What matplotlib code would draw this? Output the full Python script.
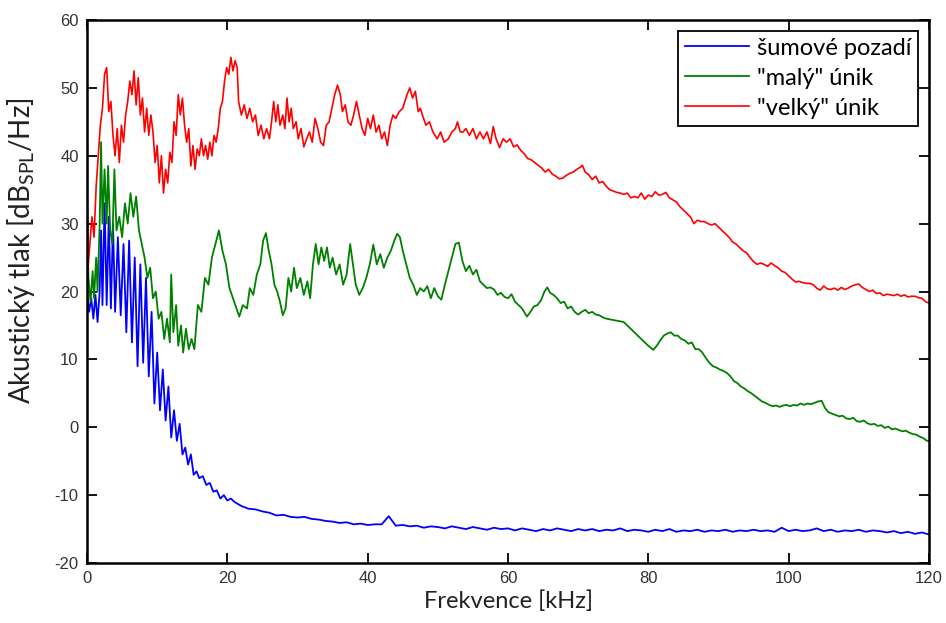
import matplotlib
matplotlib.use("Agg")
import matplotlib.pyplot as plt

# ---------------- data ----------------
blue_khz = [0, 0.3, 0.6, 0.9, 1.2, 1.5, 1.8, 2.0, 2.2, 2.5, 2.8, 3.1, 3.4, 3.7, 4.0, 4.4, 4.8,
            5.2, 5.6, 6.0, 6.4, 6.8, 7.2, 7.6, 8.0, 8.4, 8.8, 9.2, 9.6, 10.0, 10.4, 10.8,
            11.2, 11.6, 12.0, 12.4, 12.8, 13.2, 13.6, 14.0, 14.4, 14.8, 15.2, 15.6, 16,
            16.5, 17, 17.5, 18, 18.5, 19, 19.5, 20, 20.5, 21] + list(range(22, 121))
blue_db = [20, 17, 19, 16, 19.5, 15.5, 20, 29, 18, 33, 18, 31, 17.5, 30, 17, 28, 16.5,
           27, 14, 27.5, 12.5, 25, 9, 24, 9.5, 22, 7.5, 17, 3.5, 11, 2.5, 8.5,
           1, 6, -1.5, 2.5, -2, 0.5, -4, -3, -5.5, -4, -7, -6.5, -7.5,
           -7.2, -8.5, -8.2, -9.5, -9.3, -10.5, -10, -10.8, -10.5, -11,
           # 22 .. 120 kHz
           -11.6, -12, -12.1, -12.4, -12.6, -13, -12.9, -13.2, -13.3, -13.2,
           -13.5, -13.6, -13.8, -13.9, -14.1, -14, -14.3, -14.2, -14.4, -14.3,
           -14.3, -13.1, -14.5, -14.4, -14.6, -14.5, -14.8, -14.6, -14.7, -14.9,
           -14.6, -14.8, -15, -14.7, -14.9, -15.1, -14.8, -15, -14.9, -15.2,
           -14.9, -15.1, -15.3, -15, -15.2, -14.9, -15.1, -15.3, -15, -15.2,
           -15, -15.3, -15.1, -15.2, -14.9, -15.3, -15.1, -15.2, -15.4, -15.1,
           -15.3, -15, -15.4, -15.2, -15.3, -15.1, -15.4, -15.2, -15.3, -15.1,
           -15.4, -15.2, -15.3, -15.1, -15.3, -15.2, -15.4, -14.8, -15.3, -15.1,
           -15.3, -15.2, -14.9, -15.3, -15.1, -15.4, -15.2, -15.3, -15.1, -15.4,
           -15.2, -15.3, -15.5, -15.3, -15.6, -15.4, -15.7, -15.5, -15.8]

green_khz = [0, 0.2, 0.5, 0.8, 1.0, 1.3, 1.5, 1.8, 2.0, 2.2, 2.5, 2.8, 3.0, 3.3, 3.6, 3.9,
             4.2, 4.6, 5.0, 5.4, 5.8, 6.2, 6.6, 7.0, 7.4, 7.8, 8.2, 8.6, 9.0, 9.4, 9.8,
             10.2, 10.6, 11.0, 11.4, 11.8, 12.0, 12.3, 12.7, 13.0, 13.4, 13.7, 14.1, 14.5,
             14.9, 15.3, 15.8, 16.3, 16.8, 17.3, 17.8, 18.3, 18.8, 19.3, 19.8,
             20.3, 20.8, 21.3, 21.7, 22.2, 22.8, 23.2, 23.7, 24.2, 24.7, 25.1, 25.5, 25.9,
             26.3, 26.7, 27.1, 27.5, 27.9, 28.3, 28.7, 29.1, 29.5, 29.9, 30.4, 30.9, 31.4,
             31.8, 32.2, 32.6, 33, 33.4, 33.8, 34.2, 34.6, 35, 35.5, 36, 36.5, 37, 37.5,
             37.9, 38.3, 38.8, 39.3, 39.8, 40.3, 40.8, 41.3, 41.8, 42.3, 42.8, 43.3, 43.8,
             44.2, 44.6, 45.0, 45.5, 46, 46.5, 47, 47.5, 48, 48.5, 49, 49.5, 50, 50.5, 51,
             51.5, 52, 52.5, 53, 53.5, 54, 54.5, 55, 55.5, 56, 56.5, 57, 57.5, 58, 58.5,
             59, 59.5, 60, 60.5, 61, 61.5, 62, 62.7, 63.2, 63.7, 64.2, 64.7, 65.2, 65.6,
             66, 66.5, 67, 67.5, 68, 68.5, 69, 69.5, 70, 70.5, 71, 71.5, 72, 72.5, 73,
             73.5, 74, 74.5, 75, 75.5, 76, 76.5, 77, 77.5, 78, 78.5, 79, 79.5, 80, 80.7,
             81.2, 81.7, 82.2, 82.7, 83.2, 83.7, 84.2, 84.7, 85.2, 85.7, 86.2, 86.7, 87.2,
             87.7, 88.2, 88.7, 89.2, 89.7, 90.2, 90.7, 91.2, 91.7, 92.2, 92.7, 93.2, 93.7,
             94.2, 94.7, 95.2, 95.7, 96.2, 96.7, 97.2, 97.7, 98.2, 98.7, 99.2, 99.7, 100.2,
             100.7, 101.2, 101.7, 102.2, 102.7, 103.2, 103.7, 104.2, 104.7, 105.2, 105.7,
             106.2, 106.7, 107.2, 107.7, 108.2, 108.7, 109.2, 109.7, 110.2, 110.7, 111.2,
             111.7, 112.2, 112.7, 113.2, 113.7, 114.2, 114.7, 115.2, 115.7, 116.2, 116.7,
             117.2, 117.7, 118.2, 118.7, 119.2, 119.7, 120]
green_db = [33, 22, 18.5, 23, 19, 25, 20, 30, 42, 30, 38, 30, 38.5, 29, 27, 38,
            29, 31, 28, 33, 30, 34.5, 31, 34, 29, 27, 25, 22, 23.5, 19, 20,
            16, 17, 13, 16, 12.5, 22.5, 14, 18, 12, 15, 11, 14.5, 11.5,
            13, 11.5, 18, 17, 22, 21, 25, 27, 29, 26, 24,
            20.5, 19, 17.5, 16.3, 18, 17.5, 20.5, 19.5, 22.5, 24, 27.5, 28.6, 26,
            24, 21, 20, 18.5, 16.5, 17.5, 22, 20, 23.5, 20.5, 22, 19.5, 21.5,
            19, 24, 27, 24, 26.5, 24.5, 26.5, 23.5, 25, 22.5, 24, 21, 22.5, 27,
            24, 21, 19.5, 20.5, 22, 24, 26.9, 24, 25.5, 23.5, 25, 26, 27.5,
            28.5, 28, 26, 24, 22, 21, 19.5, 20.5, 20, 20.8, 19, 20.5, 19.3, 18.8, 21,
            23, 25, 27, 27.2, 24.5, 23, 23.8, 22.5, 23.2, 21.5, 21, 20.5, 20.6, 20.3, 19.5,
            19.8, 19.2, 19, 19.6, 18.5, 18, 17.5, 16.3, 17, 17.8, 18, 18.7, 20, 20.6,
            19.8, 19.5, 19, 18.3, 18.5, 17.5, 17.8, 17, 16.6, 17, 17.3, 16.8, 17, 16.6, 16.5,
            16.2, 16, 15.9, 15.8, 15.7, 15.6, 15.5, 15, 14.5, 14, 13.5, 13, 12.5, 12, 11.4,
            12, 12.8, 13.5, 13.8, 14, 13.5, 13.5, 13, 12.8, 12.3, 12.5, 11.5, 11.5,
            11, 10.2, 9.5, 9, 8.8, 8.5, 8.3, 8, 7.5, 6.8, 6.5, 6, 5.7,
            5.3, 5, 4.6, 4.2, 3.8, 3.6, 3.3, 3.1, 3.2, 3, 3.2, 3.3, 3.1,
            3.3, 3.2, 3.5, 3.3, 3.5, 3.4, 3.6, 3.8, 3.9, 2.8, 2.2,
            2, 1.8, 1.6, 1.7, 1.3, 1.2, 1.4, 0.9, 0.8, 1, 0.6,
            0.4, 0.5, 0.2, 0.3, -0.1, 0.1, -0.3, -0.2, -0.4, -0.6, -0.5,
            -0.8, -1, -1.1, -1.4, -1.6, -2, -2]

red_khz = [0, 0.1, 0.4, 0.7, 1.0, 1.3, 1.6, 1.9, 2.2, 2.5, 2.8, 3.1, 3.4, 3.7, 4.0, 4.3,
           4.6, 4.9, 5.2, 5.5, 5.8, 6.1, 6.4, 6.7, 7.0, 7.3, 7.6, 7.9, 8.2, 8.5, 8.8, 9.1,
           9.4, 9.7, 10.0, 10.3, 10.6, 10.9, 11.2, 11.5, 11.8, 12.1, 12.4, 12.7, 13.0,
           13.3, 13.6, 13.9, 14.2, 14.5, 14.8, 15.1, 15.4, 15.7, 16.0, 16.3, 16.6, 16.9,
           17.2, 17.5, 17.8, 18.1, 18.4, 18.7, 19.0, 19.3, 19.6, 19.9, 20.2, 20.5, 20.8,
           21.1, 21.4, 21.6, 22.0, 22.4, 22.8, 23.2, 23.6, 24.0, 24.4, 24.8, 25.2, 25.6,
           26.0, 26.3, 26.6, 26.9, 27.2, 27.5, 27.9, 28.2, 28.5, 28.8, 29.1, 29.4, 29.8,
           30.1, 30.5, 30.9, 31.3, 31.7, 32.1, 32.5, 32.9, 33.3, 33.7, 34.1, 34.5, 34.9,
           35.3, 35.7, 36.1, 36.4, 36.8, 37.2, 37.6, 38.0, 38.4, 38.8, 39.2, 39.6, 40.0,
           40.4, 40.8, 41.2, 41.6, 42.0, 42.4, 42.8, 43.2, 43.6, 44.0, 44.5, 45.0, 45.3,
           45.6, 46.0, 46.4, 46.8, 47.2, 47.5, 47.8, 48.3, 48.8, 49.3, 49.9, 50.4, 50.9,
           51.5, 52, 52.5, 52.8, 53.2, 53.6, 54, 54.5, 55, 55.5, 56, 56.5, 57, 57.5, 57.9,
           58.3, 58.8, 59.3, 59.8, 60.3, 60.8, 61.3, 61.8, 62.3, 62.8, 63.3, 63.8, 64.3,
           64.8, 65.3, 65.8, 66.3, 66.8, 67.3, 67.8, 68.3, 68.8, 69.3, 69.8, 70.3, 70.6,
           71.0, 71.5, 72, 72.5, 73, 73.5, 74, 74.5, 75, 75.5, 76, 76.5, 77, 77.5, 78,
           78.5, 79, 79.5, 80, 80.5, 81, 81.5, 82, 82.5, 83, 83.5, 84, 84.5, 85, 85.5,
           86, 86.5, 87, 87.5, 88, 88.5, 89, 89.5, 90, 90.5, 91, 91.5, 92, 92.5, 93,
           93.5, 94, 94.5, 95, 95.5, 96, 96.5, 97, 97.5, 98, 98.5, 99, 99.5, 100, 100.5,
           101, 101.5, 102, 102.5, 103, 103.5, 104, 104.5, 105, 105.5, 106, 106.5, 107,
           107.5, 108, 108.5, 109, 109.5, 110, 110.5, 111, 111.5, 112, 112.5, 113, 113.5,
           114, 114.5, 115, 115.5, 116, 116.5, 117, 117.5, 118, 118.5, 119, 119.5, 120]
red_db = [47, 23, 27, 31, 28, 35.5, 40, 44.5, 47, 52, 53, 46.5, 48, 43, 40, 44,
          39, 44.5, 42, 46, 48, 51, 49, 52.5, 47.5, 51.5, 46, 48.5, 43.5, 47, 43, 46,
          43.5, 39, 41.5, 36, 40, 34.5, 38, 36, 40.5, 39, 45, 43, 49,
          46, 48.5, 44.5, 42, 44, 38.5, 41.5, 38, 41, 40, 42.5, 40, 41.5,
          39.5, 42, 40, 43, 42, 44, 47, 48, 51, 53, 52, 54.5, 52.5,
          54, 53, 48, 46, 47.5, 45.5, 47, 45, 46, 43, 44.5, 42.5, 44,
          42.5, 45, 48, 45, 47.5, 44.5, 46, 44, 48.5, 45, 47, 44, 45,
          42.5, 44, 41.3, 42.5, 43.5, 42, 45.5, 44, 42, 41.5, 44.5, 45, 47,
          49, 50.4, 49, 46.5, 47.5, 45, 44.5, 46, 48, 46, 44, 43, 45.5,
          44, 46, 43.5, 44.5, 42.5, 43.5, 41.5, 44.5, 46, 45.5, 46.5, 47, 48,
          49, 50, 48.5, 49.5, 46.5, 47, 46, 44.5, 45, 43.5, 42.5, 43.5, 42,
          42.5, 43.5, 44, 45, 43.5, 43.5, 44, 43, 44, 42.5, 43.5, 42.5, 43.5, 41.8, 44.3,
          42.5, 41.2, 42.5, 42, 42.5, 41.3, 41.6, 40.8, 40.3, 39.6, 39.4, 39, 38.6,
          38.2, 37.6, 38, 37.3, 37, 36.6, 36.7, 37.1, 37.4, 37.6, 38, 38.3, 38.6,
          37.6, 37.2, 36.5, 37, 36, 36.2, 35.5, 35, 34.8, 34.6, 34.5, 34.3, 34.5, 33.8, 34,
          33.8, 34.5, 33.6, 34.2, 34, 34.7, 34.2, 34.3, 34.6, 33.8, 33.5, 33.2, 32.5, 32, 31.5,
          31, 30, 30.5, 30.3, 30.3, 30, 29.8, 30, 29.5, 29, 28.5, 28, 27.3, 27, 26.5,
          26, 25.7, 25, 24.4, 24, 24.2, 24, 23.7, 24.2, 23.8, 23.5, 23, 22.8, 22.3, 21.8,
          21.4, 21.5, 21.3, 21.2, 21.2, 21, 20.5, 20.2, 20.8, 20.4, 20.3, 20.5, 20.2,
          20.6, 20.3, 20.5, 20.8, 21, 21.1, 20.6, 20.3, 20, 20.2, 19.7, 19.8, 19.4,
          19.6, 19.5, 19.4, 19.6, 19.3, 19.5, 19.2, 19.3, 19.3, 19.1, 19, 18.5, 18.3]

series_labels = ["šumové pozadí", "\"malý\" únik", "\"velký\" únik"]
x_ticks = [0, 20, 40, 60, 80, 100, 120]
y_ticks = [-20, -10, 0, 10, 20, 30, 40, 50, 60]
x_label = "Frekvence [kHz]"
y_label = "Akustický tlak [dB$_\\mathregular{SPL}$/Hz]"

# ---------------- figure ----------------
plt.rcParams["font.family"] = ["Lato", "DejaVu Sans"]
fig = plt.figure(figsize=(9.46, 6.23), dpi=100)
ax = fig.add_axes([0.092, 0.0963, 0.890, 0.8716])

ax.plot(blue_khz, blue_db, color=(0, 0, 1), lw=1.3, label=series_labels[0])
ax.plot(green_khz, green_db, color=(0, 0.5, 0), lw=1.3, label=series_labels[1])
ax.plot(red_khz, red_db, color=(1, 0, 0), lw=1.2, label=series_labels[2])

ax.set_xlim(0, 120)
ax.set_ylim(-20, 60)
ax.set_xticks(x_ticks)
ax.set_yticks(y_ticks)
tick_font = {"family": ["Liberation Sans Narrow", "Liberation Sans", "DejaVu Sans"], "size": 12}
ax.set_xticklabels([str(t) for t in x_ticks], fontdict=tick_font, color="#333333")
ax.set_yticklabels([str(t) for t in y_ticks], fontdict=tick_font, color="#333333")
ax.tick_params(direction="in", length=7, width=1.3, top=True, right=True, pad=6)
for s in ax.spines.values():
    s.set_linewidth(1.8)
    s.set_color("black")

ax.set_xlabel(x_label, fontsize=17, color="#222222", labelpad=3)
ax.set_ylabel(y_label, fontsize=20, color="#222222")
ax.yaxis.set_label_coords(-0.060, 0.575)

leg = ax.legend(loc="upper right", fontsize=17, handlelength=2.7, handletextpad=0.35,
                borderaxespad=0.45, fancybox=False, framealpha=1, edgecolor="black",
                borderpad=0.3, labelspacing=0.38)
leg.get_frame().set_linewidth(1.3)

fig.savefig("out.png", dpi=100)
